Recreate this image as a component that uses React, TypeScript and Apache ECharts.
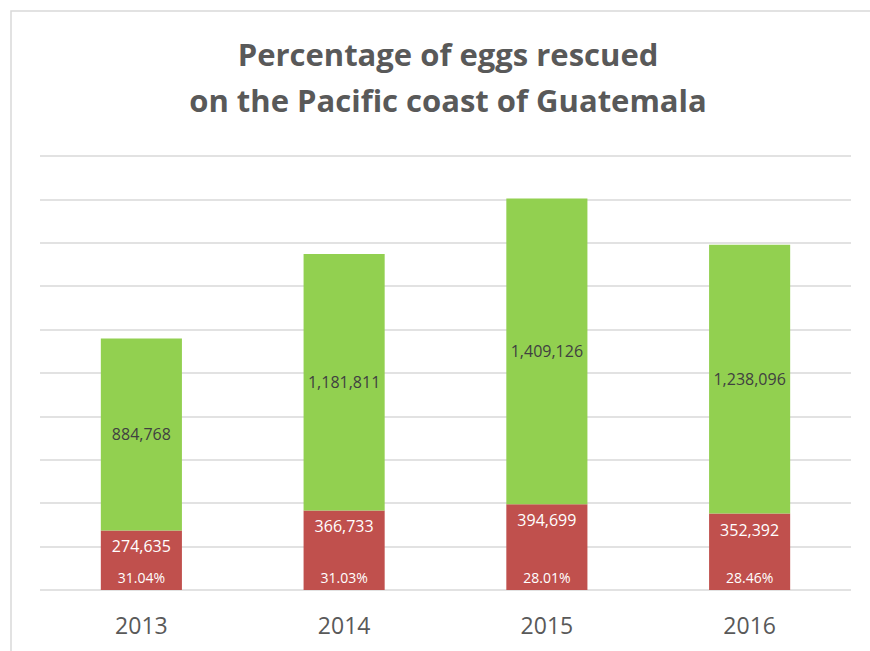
import React, { useEffect, useRef } from "react";
import * as echarts from "echarts";

const years = ["2013", "2014", "2015", "2016"];
const lostEggs = [274635, 366733, 394699, 352392];
const rescuedEggs = [884768, 1181811, 1409126, 1238096];
const titleLines = ["Percentage of eggs rescued", "on the Pacific coast of Guatemala"];

const fmt = (v: number) => v.toLocaleString("en-US");

export default function App() {
  const ref = useRef<HTMLDivElement>(null);
  useEffect(() => {
    if (!ref.current) return;
    const chart = echarts.init(ref.current, null, { renderer: "svg" });
    const pct = lostEggs.map((v, i) => ((v / rescuedEggs[i]) * 100).toFixed(2) + "%");
    const font = "'Open Sans', 'Noto Sans', sans-serif";
    chart.setOption({
      animation: false,
      backgroundColor: "#ffffff",
      title: {
        text: titleLines.join("\n"),
        left: 443,
        top: 26,
        textAlign: "center",
        textStyle: {
          fontFamily: font,
          fontWeight: "bold",
          fontSize: 31,
          lineHeight: 46,
          color: "#595959",
        },
      },
      graphic: [
        {
          type: "rect",
          shape: { x: 11, y: 11, width: 880, height: 700 },
          style: { fill: "none", stroke: "#d9d9d9", lineWidth: 1.5 },
          silent: true,
        },
      ],
      grid: { left: 40, right: 19, top: 156, bottom: 61, containLabel: false },
      xAxis: {
        type: "category",
        data: years,
        axisLine: { show: false },
        axisTick: { show: false },
        axisLabel: { fontFamily: font, fontSize: 23, color: "#595959", margin: 23 },
      },
      yAxis: {
        type: "value",
        min: 0,
        max: 2000000,
        interval: 200000,
        axisLabel: { show: false },
        axisLine: { show: false },
        axisTick: { show: false },
        splitLine: { lineStyle: { color: "#d9d9d9", width: 1.5 } },
      },
      series: [
        {
          name: "lost",
          type: "bar",
          stack: "total",
          barWidth: "40%",
          data: lostEggs,
          itemStyle: { color: "#c0504d" },
          label: {
            show: true,
            position: "insideTop",
            distance: 8,
            formatter: (p: any) => fmt(p.value),
            fontFamily: font,
            fontSize: 16,
            color: "#ffffff",
          },
        },
        {
          name: "rescued",
          type: "bar",
          stack: "total",
          barWidth: "40%",
          data: rescuedEggs,
          itemStyle: { color: "#92d050" },
          label: {
            show: true,
            position: "inside",
            formatter: (p: any) => fmt(p.value),
            fontFamily: font,
            fontSize: 16,
            color: "#404040",
          },
        },
        {
          name: "pct",
          type: "bar",
          barWidth: "40%",
          barGap: "-100%",
          data: lostEggs,
          itemStyle: { color: "rgba(0,0,0,0)" },
          silent: true,
          label: {
            show: true,
            position: "insideBottom",
            distance: 6,
            formatter: (p: any) => pct[p.dataIndex],
            fontFamily: font,
            fontSize: 14,
            color: "#ffffff",
          },
        },
      ],
    });
    return () => chart.dispose();
  }, []);
  return (
    <div
      ref={ref}
      style={{ position: "absolute", left: 0, top: 0, width: 870, height: 651 }}
    />
  );
}
